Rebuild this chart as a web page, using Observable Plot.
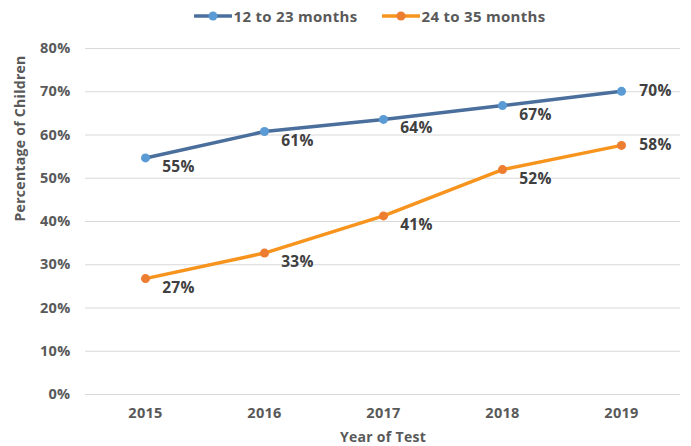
<!DOCTYPE html>
<html>
<head>
<meta charset="utf-8">
<script src="https://cdn.jsdelivr.net/npm/d3@7"></script>
<script src="https://cdn.jsdelivr.net/npm/@observablehq/plot@0.6"></script>
<style>
  html, body { margin: 0; padding: 0; background: #fff; }
  body { width: 691px; height: 446px; overflow: hidden; font-family: "Open Sans", sans-serif; }
  #legend { height: 32px; display: flex; justify-content: center; align-items: center; gap: 24px; padding-left: 48px; box-sizing: border-box; font-weight: 700; font-size: 15px; color: #595959; letter-spacing: 0.3px; }
  .item { display: flex; align-items: center; gap: 2px; }
</style>
</head>
<body>
<div id="legend"></div>
<div id="chart"></div>
<script>
const years = ["2015", "2016", "2017", "2018", "2019"];
const seriesNames = ["12 to 23 months", "24 to 35 months"];
const young = [54.7, 60.8, 63.6, 66.8, 70.1];
const old = [26.8, 32.7, 41.3, 52.0, 57.6];
const yTicks = [0, 10, 20, 30, 40, 50, 60, 70, 80];
const lineColors = ["#4a6f9c", "#f7941e"];
const dotColors = ["#5b9bd5", "#ed7d31"];

const data = [];
years.forEach((y, i) => {
  data.push({year: y, value: young[i], series: seriesNames[0]});
  data.push({year: y, value: old[i], series: seriesNames[1]});
});
const lastYear = years[years.length - 1];

// legend
const legend = document.getElementById("legend");
seriesNames.forEach((name, i) => {
  const item = document.createElement("div");
  item.className = "item";
  item.innerHTML = `<svg width="38" height="12"><line x1="1" y1="6" x2="37" y2="6" stroke="${lineColors[i]}" stroke-width="3.5" stroke-linecap="round"/><circle cx="19" cy="6" r="4.5" fill="${dotColors[i]}"/></svg><span>${name}</span>`;
  legend.appendChild(item);
});

const chart = Plot.plot({
  width: 691,
  height: 414,
  marginLeft: 85,
  marginRight: 11,
  marginTop: 16,
  marginBottom: 52,
  style: {fontFamily: "'Open Sans', sans-serif", fontSize: "13px", fontWeight: 700, color: "#595959", background: "#fff", letterSpacing: "0.3px"},
  x: {type: "point", domain: years, padding: 0.5, label: null, axis: null},
  y: {domain: [0, 80], label: null, axis: null},
  color: {domain: seriesNames, range: lineColors},
  marks: [
    Plot.gridY(yTicks, {stroke: "#d9d9d9", strokeOpacity: 1, strokeWidth: 1}),
    Plot.axisY(yTicks, {tickSize: 0, tickPadding: 15, tickFormat: d => d + "%", fill: "#595959", fontSize: 14.5, fontWeight: 700, label: null}),
    Plot.axisX(years, {tickSize: 0, tickPadding: 13, fill: "#595959", fontSize: 14.5, fontWeight: 700, label: null}),
    Plot.text(["Year of Test"], {frameAnchor: "bottom", dy: 47, fill: "#595959", fontSize: 14, fontWeight: 700}),
    Plot.text(["Percentage of Children"], {frameAnchor: "left", dx: -65, rotate: -90, fill: "#595959", fontSize: 14, fontWeight: 700}),
    Plot.line(data, {x: "year", y: "value", z: "series", stroke: "series", strokeWidth: 3.5}),
    Plot.dot(data, {x: "year", y: "value", r: 4.5, fill: d => d.series === seriesNames[0] ? dotColors[0] : dotColors[1]}),
    Plot.text(data.filter(d => d.year !== lastYear), {x: "year", y: "value", text: d => Math.round(d.value) + "%", dx: 33, dy: 9, fill: "#404040", fontSize: 15.5, fontWeight: 700}),
    Plot.text(data.filter(d => d.year === lastYear), {x: "year", y: "value", text: d => Math.round(d.value) + "%", dx: 34, dy: 0, fill: "#404040", fontSize: 15.5, fontWeight: 700})
  ]
});
document.getElementById("chart").appendChild(chart);
</script>
</body>
</html>
